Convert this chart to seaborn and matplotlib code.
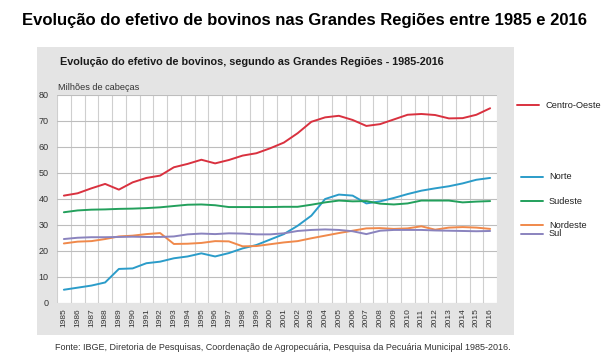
import numpy as np
import pandas as pd
import seaborn as sns
import matplotlib.pyplot as plt
from matplotlib.patches import Rectangle
from matplotlib.lines import Line2D

years = list(range(1985, 2017))

centro_oeste = [41.3, 42.2, 44.1, 45.8, 43.6, 46.4, 48.1, 49.0, 52.2, 53.5, 55.1, 53.7, 55.0, 56.7, 57.6, 59.5,
                61.7, 65.3, 69.7, 71.4, 72.0, 70.4, 68.1, 68.8, 70.6, 72.4, 72.7, 72.3, 71.0, 71.1, 72.4, 74.9]
norte = [5.1, 5.9, 6.7, 7.9, 13.1, 13.3, 15.3, 15.9, 17.2, 17.9, 19.1, 17.9, 19.2, 21.0, 22.3, 24.4,
         26.5, 29.7, 33.6, 40.0, 41.7, 41.3, 38.3, 39.1, 40.4, 41.9, 43.2, 44.1, 44.9, 46.0, 47.4, 48.1]
sudeste = [34.9, 35.6, 35.9, 36.0, 36.2, 36.3, 36.5, 36.8, 37.3, 37.8, 37.9, 37.6, 36.9, 36.9, 36.9, 36.9,
           37.0, 37.0, 37.8, 38.7, 39.4, 39.1, 39.2, 38.2, 37.9, 38.3, 39.4, 39.4, 39.4, 38.7, 39.0, 39.2]
nordeste = [22.9, 23.6, 23.8, 24.6, 25.6, 25.9, 26.5, 26.9, 22.7, 22.8, 23.1, 23.8, 23.7, 21.8, 21.9, 22.6,
            23.3, 23.8, 24.9, 25.9, 26.9, 27.8, 28.7, 28.8, 28.5, 28.7, 29.5, 28.2, 29.0, 29.2, 29.0, 28.5]
sul = [24.6, 25.1, 25.3, 25.3, 25.4, 25.5, 25.4, 25.4, 25.6, 26.4, 26.7, 26.5, 26.8, 26.7, 26.4, 26.4,
       26.8, 27.7, 28.1, 28.3, 28.1, 27.6, 26.5, 27.8, 28.1, 28.1, 28.1, 27.9, 27.8, 27.7, 27.6, 27.7]

regions = ["Centro-Oeste", "Norte", "Sudeste", "Nordeste", "Sul"]
colors = ["#d9313f", "#2b9cc9", "#23a05c", "#f0894b", "#8a83be"]
# legend label y positions (pixels from top)
label_y = [105, 177, 201, 225, 234]

df = pd.DataFrame({"ano": years * 5,
                   "valor": centro_oeste + norte + sudeste + nordeste + sul,
                   "regiao": sum([[r] * len(years) for r in regions], [])})

sns.set_style("white")
plt.rcParams["font.family"] = ["Liberation Sans", "DejaVu Sans"]

W, H = 610, 356
fig = plt.figure(figsize=(W / 100, H / 100), dpi=100)

# grey panel behind the chart
fig.patches.append(Rectangle((37 / W, 1 - 335 / H), (514 - 37) / W, (335 - 47) / H,
                             transform=fig.transFigure, facecolor="#e4e4e4", edgecolor="none", zorder=-1))

ax = fig.add_axes([57 / W, 1 - 303 / H, 440 / W, 208 / H])
ax.set_zorder(2)
ax.set_facecolor("white")
sns.lineplot(data=df, x="ano", y="valor", hue="regiao", hue_order=regions, palette=colors,
             linewidth=1.4, legend=False, ax=ax)

ax.set_xlim(1984.5, 2016.5)
ax.set_ylim(0, 80)
ax.set_yticks(range(0, 81, 10))
ax.set_xticks(years)
ax.set_xticklabels([str(y) for y in years], rotation=90, fontsize=6, color="#333333")
ax.set_xticks(np.arange(1984.5, 2017, 1), minor=True)
ax.tick_params(axis="both", which="both", length=0)
ax.tick_params(axis="y", labelsize=6.5, labelcolor="#333333", pad=6)
ax.tick_params(axis="x", pad=4)
ax.grid(False)
ax.grid(axis="y", which="major", color="#bdbdbd", linewidth=0.8)
ax.grid(axis="x", which="minor", color="#cfcfcf", linewidth=0.8)
for s in ax.spines.values():
    s.set_visible(False)
ax.set_xlabel("")
ax.set_ylabel("")

fig.text(0.5, 1 - 20 / H, "Evolução do efetivo de bovinos nas Grandes Regiões entre 1985 e 2016",
         ha="center", va="center", fontsize=12, fontweight="bold", color="black")
fig.text(60 / W, 1 - 62 / H, "Evolução do efetivo de bovinos, segundo as Grandes Regiões - 1985-2016",
         ha="left", va="center", fontsize=7.85, fontweight="bold", color="#1a1a1a")
fig.text(58 / W, 1 - 87 / H, "Milhões de cabeças", ha="left", va="center", fontsize=6.6, color="#333333")
fig.text(55 / W, 1 - 347 / H,
         "Fonte: IBGE, Diretoria de Pesquisas, Coordenação de Agropecuária, Pesquisa da Pecuária Municipal 1985-2016.",
         ha="left", va="center", fontsize=6.45, color="#333333")

# labels on the right side
for i, (name, c, yp) in enumerate(zip(regions, colors, label_y)):
    x0 = 517 if i == 0 else 521
    fig.add_artist(Line2D([x0 / W, (x0 + 22) / W], [1 - yp / H, 1 - yp / H], color=c, linewidth=1.4))
    fig.text((x0 + 28) / W, 1 - yp / H, name, ha="left", va="center", fontsize=6.7, color="#222222")

fig.savefig("out.png", dpi=100)
